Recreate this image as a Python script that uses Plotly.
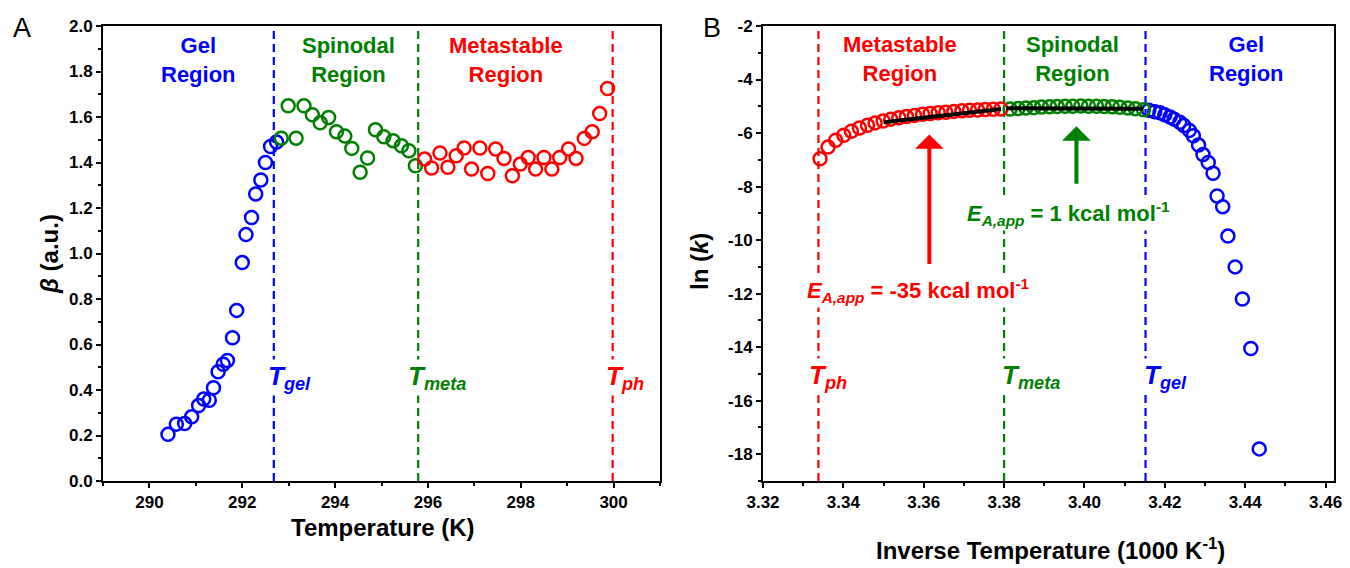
import plotly.graph_objects as go

# ---------------- Panel A data (Temperature vs beta) ----------------
gel_T = [290.40, 290.58, 290.76, 290.91, 291.06, 291.17, 291.29, 291.38, 291.48, 291.59, 291.68,
         291.79, 291.88, 292.00, 292.08, 292.20, 292.29, 292.40, 292.50, 292.61, 292.74]
gel_beta = [0.205, 0.250, 0.253, 0.282, 0.332, 0.360, 0.355, 0.410, 0.480, 0.513, 0.530,
            0.630, 0.750, 0.960, 1.083, 1.158, 1.262, 1.323, 1.400, 1.470, 1.490]
spin_T = [292.84, 292.99, 293.16, 293.33, 293.51, 293.68, 293.86, 294.03, 294.21, 294.36,
          294.54, 294.70, 294.87, 295.05, 295.25, 295.43, 295.59, 295.73]
spin_beta = [1.507, 1.649, 1.507, 1.649, 1.610, 1.575, 1.598, 1.535, 1.516, 1.462,
             1.357, 1.420, 1.544, 1.513, 1.496, 1.474, 1.452, 1.386]
meta_T = [295.93, 296.08, 296.26, 296.43, 296.61, 296.78, 296.94, 297.12, 297.29, 297.46,
          297.64, 297.82, 297.99, 298.16, 298.32, 298.50, 298.67, 298.84, 299.03, 299.19,
          299.37, 299.54, 299.70, 299.87]
meta_beta = [1.415, 1.376, 1.442, 1.379, 1.430, 1.464, 1.371, 1.464, 1.352, 1.459,
             1.418, 1.342, 1.393, 1.422, 1.371, 1.422, 1.371, 1.422, 1.459, 1.418,
             1.506, 1.535, 1.615, 1.725]
bounds_A = [292.68, 295.79, 299.98]   # T_gel, T_meta, T_ph

# ---------------- Panel B data (1000/T vs ln k) ----------------
meta_invT = [3.3342, 3.3362, 3.3381, 3.3401, 3.3420, 3.3440, 3.3460, 3.3479, 3.3499, 3.3518,
             3.3538, 3.3557, 3.3577, 3.3597, 3.3616, 3.3636, 3.3655, 3.3675, 3.3695, 3.3714,
             3.3734, 3.3753, 3.3773, 3.3792]
meta_lnk = [-6.96, -6.52, -6.27, -6.08, -5.93, -5.81, -5.71, -5.62, -5.55, -5.48,
            -5.43, -5.38, -5.34, -5.30, -5.27, -5.24, -5.22, -5.19, -5.17, -5.15,
            -5.14, -5.12, -5.11, -5.10]
spin_invT = [3.3815, 3.3835, 3.3854, 3.3874, 3.3893, 3.3913, 3.3932, 3.3952, 3.3971, 3.3991,
             3.4010, 3.4030, 3.4049, 3.4069, 3.4088, 3.4108, 3.4127, 3.4147]
spin_lnk = [-5.10, -5.08, -5.06, -5.05, -5.03, -5.02, -5.01, -5.00, -5.00, -4.99,
            -5.00, -5.00, -5.01, -5.02, -5.04, -5.06, -5.09, -5.13]
gel_invT = [3.4160, 3.4175, 3.4188, 3.4200, 3.4213, 3.4223, 3.4237, 3.4247, 3.4261, 3.4271,
            3.4284, 3.4295, 3.4308, 3.4320, 3.4330, 3.4344, 3.4357, 3.4375, 3.4393, 3.4414,
            3.4435]
gel_lnk = [-5.15, -5.20, -5.24, -5.32, -5.40, -5.48, -5.60, -5.72, -5.90, -6.10,
           -6.45, -6.80, -7.10, -7.50, -8.35, -8.75, -9.85, -11.00, -12.20, -14.05,
           -17.80]
fit_meta_x = [3.3500, 3.3792]
fit_meta_y = [-5.60, -5.10]
fit_spin_x = [3.3805, 3.4145]
fit_spin_y = [-5.07, -5.09]
bounds_B = [3.3338, 3.3800, 3.4152]   # T_ph, T_meta, T_gel

ytv_B = [-2, -4, -6, -8, -10, -12, -14, -16, -18]
ytt_B = ["-2", "-4", "-6", "-8", "-10", "-12", "-14", "-16", "-18"]

BLUE, GREEN, RED = "#0000FF", "#008000", "#FF0000"
FONT = "Liberation Sans, Arial, sans-serif"

fig = go.Figure()


def pts(x, y, color, xa, ya):
    fig.add_trace(go.Scatter(
        x=x, y=y, mode="markers", xaxis=xa, yaxis=ya, showlegend=False, hoverinfo="skip",
        marker=dict(symbol="circle-open", size=13, color=color, line=dict(width=2.5))))


pts(gel_T, gel_beta, BLUE, "x", "y")
pts(spin_T, spin_beta, GREEN, "x", "y")
pts(meta_T, meta_beta, RED, "x", "y")

pts(gel_invT, gel_lnk, BLUE, "x2", "y2")
pts(spin_invT, spin_lnk, GREEN, "x2", "y2")
pts(meta_invT, meta_lnk, RED, "x2", "y2")

for fx, fy in [(fit_meta_x, fit_meta_y), (fit_spin_x, fit_spin_y)]:
    fig.add_trace(go.Scatter(x=fx, y=fy, mode="lines", xaxis="x2", yaxis="y2",
                             showlegend=False, hoverinfo="skip",
                             line=dict(color="black", width=4)))

# vertical dashed boundary lines
for xv, c in zip(bounds_A, [BLUE, GREEN, RED]):
    fig.add_shape(type="line", xref="x", yref="y domain", x0=xv, x1=xv, y0=0, y1=1,
                  line=dict(color=c, width=2.2, dash="8px,5px"), layer="below")
for xv, c in zip(bounds_B, [RED, GREEN, BLUE]):
    fig.add_shape(type="line", xref="x2", yref="y2 domain", x0=xv, x1=xv, y0=0, y1=1,
                  line=dict(color=c, width=2.2, dash="8px,5px"), layer="below")

ann = []


def txt(x, y, text, color, size, xref="x", yref="y", bg=None, **kw):
    d = dict(x=x, y=y, xref=xref, yref=yref, text=text, showarrow=False,
             xanchor="center", yanchor="middle",
             font=dict(family=FONT, size=size, color=color))
    if bg:
        d["bgcolor"] = bg
    d.update(kw)
    ann.append(d)


W, H = 1350, 568

# Panel letters
txt(22 / W, 1 - 28 / H, "A", "black", 27, xref="paper", yref="paper")
txt(712 / W, 1 - 28 / H, "B", "black", 27, xref="paper", yref="paper")

# Axis titles (as annotations for exact placement)
txt(383 / W, 1 - 527 / H, "<b>Temperature (K)</b>", "black", 24, xref="paper", yref="paper")
txt(1050 / W, 1 - 549 / H, "<b>Inverse Temperature (1000 K<sup>-1</sup>)</b>", "black", 24,
    xref="paper", yref="paper")
txt(50 / W, 1 - 254 / H, "<b><i>β</i> (a.u.)</b>", "black", 24, xref="paper", yref="paper",
    textangle=-90)
txt(700 / W, 1 - 262 / H, "<b>ln (<i>k</i>)</b>", "black", 24, xref="paper", yref="paper",
    textangle=-90)

# Region labels panel A
txt(291.05, 1.85, "<b>Gel<br>Region</b>", BLUE, 22)
txt(294.28, 1.85, "<b>Spinodal<br>Region</b>", GREEN, 22)
txt(297.68, 1.85, "<b>Metastable<br>Region</b>", RED, 22)
# T labels panel A
txt(293.02, 0.455, "<b><i>T<sub>gel</sub></i></b>", BLUE, 26, bg="white")
txt(296.20, 0.455, "<b><i>T<sub>meta</sub></i></b>", GREEN, 26, bg="white")
txt(300.25, 0.455, "<b><i>T<sub>ph</sub></i></b>", RED, 26, bg="white")

# Region labels panel B
txt(3.3542, -3.25, "<b>Metastable<br>Region</b>", RED, 22, xref="x2", yref="y2")
txt(3.3970, -3.25, "<b>Spinodal<br>Region</b>", GREEN, 22, xref="x2", yref="y2")
txt(3.4402, -3.25, "<b>Gel<br>Region</b>", BLUE, 22, xref="x2", yref="y2")
# T labels panel B
txt(3.3362, -15.1, "<b><i>T<sub>ph</sub></i></b>", RED, 26, xref="x2", yref="y2", bg="white")
txt(3.3866, -15.1, "<b><i>T<sub>meta</sub></i></b>", GREEN, 26, xref="x2", yref="y2", bg="white")
txt(3.4202, -15.1, "<b><i>T<sub>gel</sub></i></b>", BLUE, 26, xref="x2", yref="y2", bg="white")
# Activation energy labels
txt(3.3587, -11.9, "<b><i>E<sub>A,app</sub></i> = -35 kcal mol<sup>-1</sup></b>", RED, 22,
    xref="x2", yref="y2", bg="white")
txt(3.3960, -9.0, "<b><i>E<sub>A,app</sub></i> = 1 kcal mol<sup>-1</sup></b>", GREEN, 22,
    xref="x2", yref="y2", bg="white")

# Arrows
for (xa, y0, y1, c) in [(3.3614, -10.95, -6.05, RED), (3.3980, -7.95, -5.75, GREEN)]:
    ann.append(dict(x=xa, y=y1, ax=xa, ay=y0, xref="x2", yref="y2", axref="x2", ayref="y2",
                    text="", showarrow=True, arrowhead=1, arrowsize=1.2, arrowwidth=4,
                    arrowcolor=c))

fig.update_layout(annotations=ann)

tickfont = dict(family=FONT, size=17, color="black", weight="bold")
axis_common = dict(showline=True, linewidth=2, linecolor="black", mirror=True,
                   ticks="outside", ticklen=5, tickwidth=2, tickcolor="black",
                   showgrid=False, zeroline=False, automargin=False, tickfont=tickfont)
minor_common = dict(ticklen=3, tickwidth=2, tickcolor="black", ticks="outside")

fig.update_layout(
    width=W, height=H,
    margin=dict(l=0, r=0, t=0, b=0, autoexpand=False),
    plot_bgcolor="white", paper_bgcolor="white",
    font=dict(family=FONT, color="black"),
    hovermode=False,
    xaxis=dict(domain=[103 / W, 660 / W], range=[289, 301], dtick=2, tickformat="d",
               minor=dict(dtick=1, **minor_common), anchor="y", **axis_common),
    yaxis=dict(domain=[1 - 481 / H, 1 - 26 / H], range=[0, 2.0], dtick=0.2, tickformat=".1f",
               minor=dict(dtick=0.1, **minor_common), anchor="x", **axis_common),
    xaxis2=dict(domain=[763 / W, 1334 / W], range=[3.32, 3.4621], dtick=0.02, tickformat=".2f",
                minor=dict(dtick=0.01, **minor_common), anchor="y2", **axis_common),
    yaxis2=dict(domain=[1 - 481 / H, 1 - 26 / H], range=[-19, -2], tickvals=ytv_B,
                ticktext=ytt_B, minor=dict(dtick=1, **minor_common), anchor="x2",
                **axis_common),
)

fig.write_html("out.html", config={"displayModeBar": False, "staticPlot": True},
               post_script="document.body.style.margin='0px';")
